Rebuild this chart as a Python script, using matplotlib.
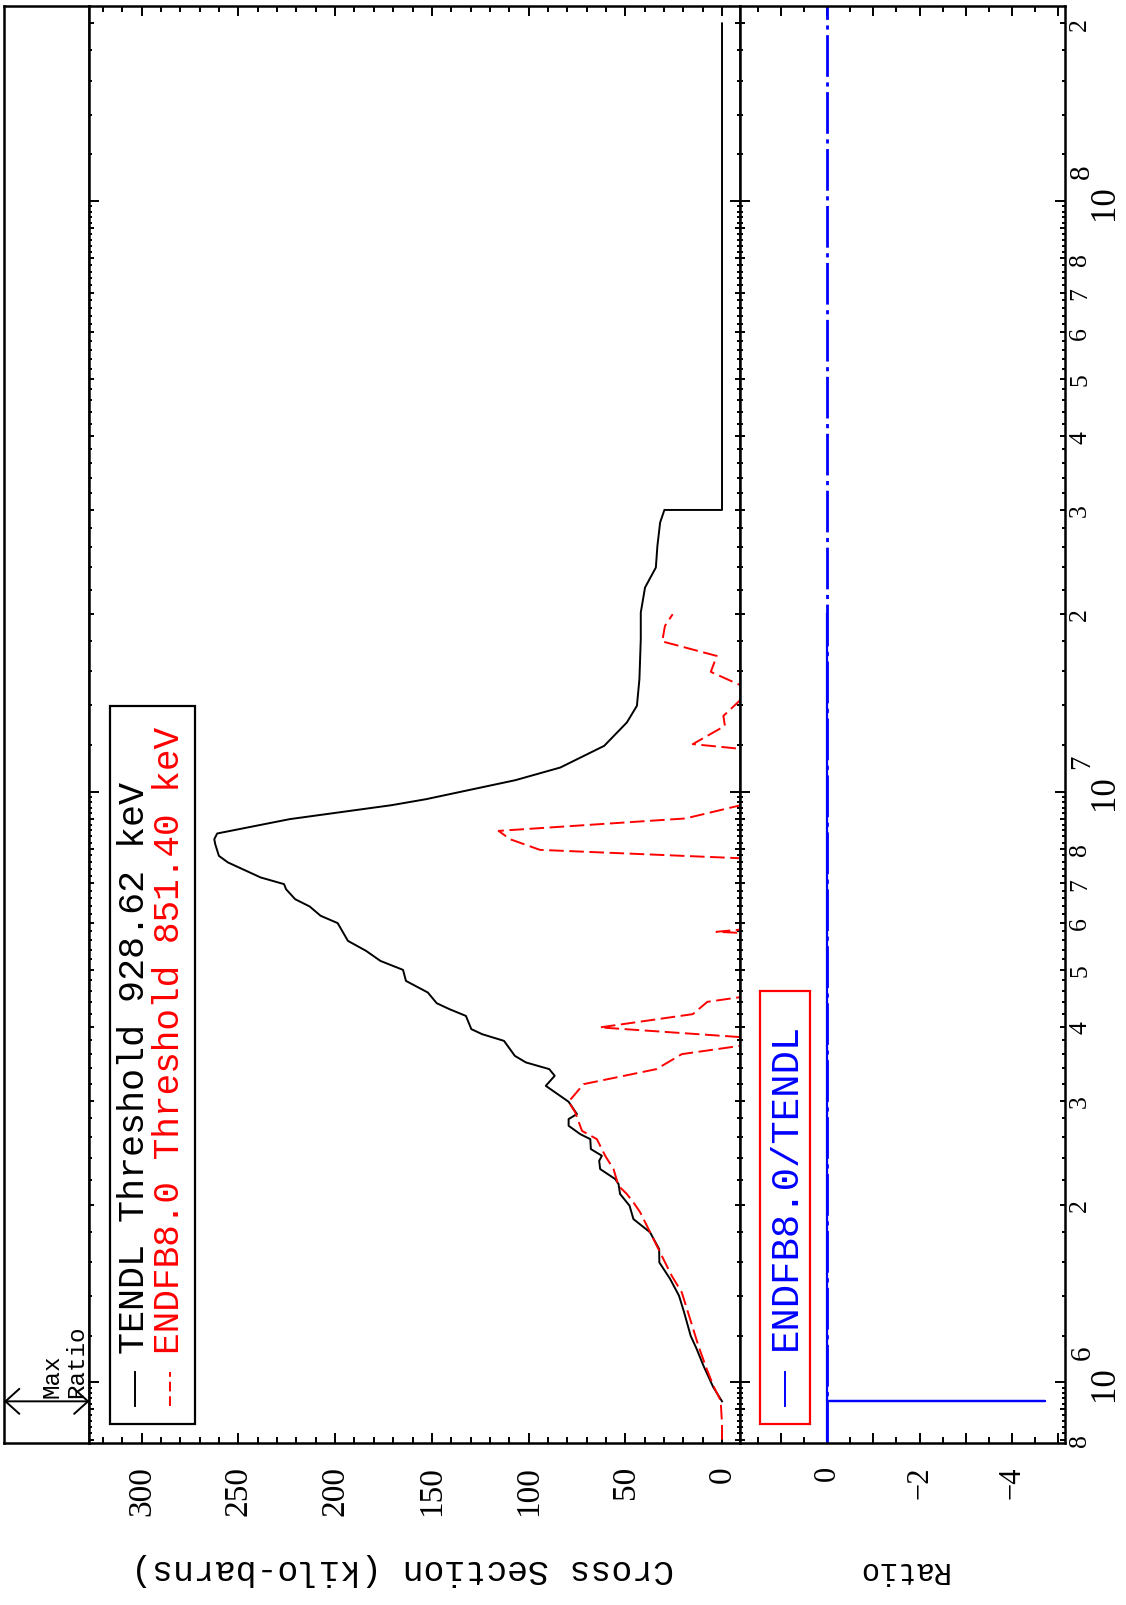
import numpy as np
import matplotlib
matplotlib.use("Agg")
import matplotlib.pyplot as plt
from matplotlib.lines import Line2D
from matplotlib.patches import Rectangle
from matplotlib.ticker import FixedLocator, FuncFormatter, MultipleLocator

plt.rcParams['font.family'] = ['Liberation Serif', 'DejaVu Serif']
plt.rcParams['lines.scale_dashes'] = False

# TENDL cross section (kilo-barns) vs energy (eV)
tendl_E = [9.2862e5, 9.81e5, 1.067e6, 1.139e6, 1.199e6, 1.314e6, 1.401e6, 1.496e6,
           1.596e6, 1.681e6, 1.795e6, 1.890e6, 1.991e6, 2.084e6, 2.166e6, 2.209e6,
           2.297e6, 2.372e6, 2.419e6, 2.483e6, 2.581e6, 2.632e6, 2.719e6, 2.791e6,
           2.846e6, 2.986e6, 3.177e6, 3.304e6, 3.391e6, 3.481e6, 3.571e6, 3.786e6,
           3.886e6, 3.963e6, 4.173e6, 4.284e6, 4.385e6, 4.572e6, 4.783e6, 4.993e6,
           5.171e6, 5.377e6, 5.591e6, 5.992e6, 6.165e6, 6.394e6, 6.578e6, 6.840e6,
           6.975e6, 7.159e6, 7.590e6, 7.788e6, 8.151e6, 8.311e6, 8.498e6, 8.987e6,
           9.489e6, 9.714e6, 1.046e7, 1.099e7, 1.196e7, 1.310e7, 1.398e7, 1.551e7,
           1.812e7, 2.011e7, 2.217e7, 2.397e7, 2.608e7, 2.856e7, 3.0e7, 3.0e7, 2.0e8]
tendl_xs = [0.0, 4.5, 9.6, 13.1, 16.2, 19.6, 22.2, 26.8,
            32.4, 32.5, 37.2, 45.8, 47.8, 52.7, 53.5, 55.2,
            63.0, 63.5, 62.1, 67.8, 68.1, 73.3, 79.3, 79.3,
            75.0, 79.3, 91.1, 86.5, 89.3, 101.4, 107.1, 112.7,
            124.0, 129.6, 132.4, 140.9, 147.5, 152.1, 163.4, 164.9,
            176.6, 184.0, 193.4, 198.7, 207.5, 213.2, 220.7, 225.4,
            226.4, 238.5, 255.4, 260.1, 262.0, 262.5, 261.0, 223.5,
            170.9, 153.0, 106.9, 83.6, 60.9, 49.2, 44.0, 42.7,
            42.0, 42.0, 39.8, 34.2, 33.4, 32.0, 29.8, 0.0, 0.0]

# ENDF/B-VIII.0
endf_E = [8.0e5, 8.514e5, 9.31e5, 9.87e5, 1.053e6, 1.153e6, 1.280e6, 1.420e6,
          1.515e6, 1.617e6, 1.703e6, 1.818e6, 1.940e6, 2.017e6, 2.084e6, 2.152e6,
          2.297e6, 2.419e6, 2.581e6, 2.666e6, 2.865e6, 2.986e6, 3.198e6, 3.391e6,
          3.595e6, 3.724e6, 3.837e6, 3.990e6, 4.202e6, 4.408e6, 4.502e6, 5.763e6,
          5.792e6, 5.853e6, 7.710e6, 7.972e6, 8.311e6, 8.585e6, 9.011e6, 9.528e6,
          1.180e7, 1.204e7, 1.293e7, 1.344e7, 1.425e7, 1.502e7, 1.596e7, 1.698e7,
          1.797e7, 1.909e7, 1.998e7]
endf_xs = [0.0, 0.0, 0.7, 4.5, 7.9, 12.2, 16.5, 20.8,
           26.0, 30.3, 33.7, 38.0, 42.3, 45.8, 49.2, 53.5,
           56.1, 60.4, 64.7, 72.4, 75.9, 79.3, 71.6, 33.9,
           20.8, -12.0, -12.0, 63.1, 15.1, 7.6, -12.0, -12.0,
           2.9, -12.0, -12.0, 94.1, 109.6, 115.5, 18.9, -12.0,
           -12.0, 15.1, -1.5, -0.7, -9.0, -12.0, 5.8, 2.7,
           30.9, 29.5, 25.5]

# ratio ENDFB8.0/TENDL
ratio_E = [8.0e5, 9.2862e5, 9.2862e5, 9.2862e5, 2.0e7]
ratio_val = [0.0, 0.0, -4.73, 0.0, 0.0]
ratio_ref = 0.0

E_LO, E_HI = 7.894e5, 2.14e8
XS_LIM = (327.0, -9.3)
R_LIM = (1.894, -5.156)

W, H = 1126, 1606
TOP, BOT = 7, 1444
MONO = 'Liberation Mono'


def box(x0, x1):
    return [x0 / W, 1 - BOT / H, (x1 - x0) / W, (BOT - TOP) / H]


def fxy(px, py):
    return px / W, 1 - py / H


fig = plt.figure(figsize=(W / 100, H / 100), dpi=100)
axm = fig.add_axes(box(4, 89.5))
ax1 = fig.add_axes(box(89.5, 740))
ax2 = fig.add_axes(box(740, 1065))

ax1.plot(tendl_xs, tendl_E, color='black', lw=1.4)
ax1.plot(endf_xs, endf_E, color='red', lw=1.4, linestyle=(0, (10.5, 4)))
ax2.axvline(ratio_ref, color='blue', lw=2.0, linestyle=(0, (30, 4, 3, 4)))
ax2.plot(ratio_val, ratio_E, color='blue', lw=1.6)

# energy ticks: decades, integer multiples, 0.2 sub-steps
decades = [1e5, 1e6, 1e7, 1e8]
maj_locs = [k * d for d in decades for k in range(1, 10)]
min_locs = [m * d for d in decades for m in np.arange(1.2, 10.0, 0.2)
            if abs(m - round(m)) > 0.05]


def e_label(v, pos):
    p = int(np.floor(np.log10(v) + 1e-9))
    k = int(round(v / 10 ** p))
    if 2 <= k <= 8:
        return str(k)
    return ''


for ax in (axm, ax1, ax2):
    ax.set_yscale('log')
    ax.set_ylim(E_LO, E_HI)
    for s in ax.spines.values():
        s.set_linewidth(1.8)

axm.set_xlim(0, 1)
axm.set_xticks([])
axm.set_yticks([])
axm.minorticks_off()

ax1.set_xlim(*XS_LIM)
ax1.xaxis.set_major_locator(MultipleLocator(50))
ax1.xaxis.set_minor_locator(MultipleLocator(10))
ax1.xaxis.set_major_formatter(FuncFormatter(lambda v, p: '%d' % round(v)))

ax2.set_xlim(*R_LIM)
ax2.xaxis.set_major_locator(MultipleLocator(1))
ax2.xaxis.set_minor_locator(MultipleLocator(0.5))
ax2.xaxis.set_major_formatter(FuncFormatter(
    lambda v, p: ('\u2212%d' % abs(round(v)) if round(v) < 0 else '%d' % round(v))
    if round(v) % 2 == 0 else ''))

for ax in (ax1, ax2):
    ax.yaxis.set_major_locator(FixedLocator(maj_locs))
    ax.yaxis.set_minor_locator(FixedLocator(min_locs))
    ax.yaxis.set_major_formatter(FuncFormatter(e_label))
    ax.tick_params(axis='x', which='both', direction='in', top=True, bottom=True,
                   labeltop=False, labelbottom=True, labelrotation=90, width=1.4)
    ax.tick_params(axis='x', which='major', length=7.5)
    ax.tick_params(axis='x', which='minor', length=4)
    ax.tick_params(axis='y', which='both', direction='in', left=True, right=True,
                   labelleft=False, labelright=False, width=1.4)
    ax.tick_params(axis='y', which='major', length=3.6)
    ax.tick_params(axis='y', which='minor', length=2.5)

ax1.tick_params(axis='x', which='major', labelsize=24, pad=16)
ax2.tick_params(axis='x', which='major', labelsize=22, pad=16)
ax2.tick_params(axis='y', which='major', labelright=True, labelrotation=90,
                labelsize=18.5, pad=3)

# longer ticks at decades
for ax in (ax1, ax2):
    locs = ax.yaxis.get_majorticklocs()
    for loc, t in zip(locs, ax.yaxis.get_major_ticks(len(locs))):
        t.label2.set_va('center')
        if abs(np.log10(loc) - round(np.log10(loc))) < 1e-6:
            t.tick1line.set_markersize(7.5)
            t.tick2line.set_markersize(7.5)

# decade labels: large "10" with raised exponent
for d in decades:
    if not E_LO <= d <= E_HI:
        continue
    tr = ax2.get_yaxis_transform()
    ax2.annotate('10', xy=(1, d), xycoords=tr, xytext=(28.5, 0),
                 textcoords='offset points', rotation=90, ha='center', va='center',
                 fontsize=25)
    ax2.annotate('%d' % round(np.log10(d)), xy=(1, d), xycoords=tr,
                 xytext=(12.5, 22), textcoords='offset points', rotation=90,
                 ha='center', va='center', fontsize=21)

# Max Ratio marker
e_max = ratio_E[int(np.argmin(ratio_val))]
axm.annotate('', xy=(0, e_max), xycoords=axm.get_yaxis_transform(),
             xytext=(1, e_max), textcoords=axm.get_yaxis_transform(),
             arrowprops=dict(arrowstyle='<->,head_length=0.5,head_width=0.45',
                             lw=1.4, color='black', shrinkA=0, shrinkB=0,
                             mutation_scale=20))
for xf, txt in ((0.556, 'Max'), (0.848, 'Ratio')):
    axm.annotate(txt, xy=(xf, e_max), xycoords=axm.get_yaxis_transform(),
                 xytext=(0, 3), textcoords='offset points', rotation=90,
                 ha='center', va='bottom', family=MONO, fontsize=17.5)

# legend of the cross section panel
x0, y0 = fxy(110, 1425)
fig.add_artist(Rectangle((x0, y0), 85 / W, (1425 - 707) / H, fill=False,
                         ec='black', lw=1.6, transform=fig.transFigure))
fig.add_artist(Line2D([135 / W] * 2, [1 - 1406.7 / H, 1 - 1373 / H], color='black',
                      lw=1.4, transform=fig.transFigure))
fig.add_artist(Line2D([170 / W] * 2, [1 - 1406.7 / H, 1 - 1373 / H], color='red',
                      lw=1.4, linestyle=(0, (7, 3.5)), transform=fig.transFigure))
fig.text(*fxy(135, 1354), 'TENDL Threshold 928.62 keV', rotation=90, ha='center',
         va='bottom', family=MONO, fontsize=26.5, color='black')
fig.text(*fxy(170, 1354), 'ENDFB8.0 Threshold 851.40 keV', rotation=90, ha='center',
         va='bottom', family=MONO, fontsize=26, color='red')

# legend of the ratio panel
x0, y0 = fxy(760, 1425)
fig.add_artist(Rectangle((x0, y0), 50 / W, (1425 - 992) / H, fill=False,
                         ec='red', lw=1.6, transform=fig.transFigure))
fig.add_artist(Line2D([785 / W] * 2, [1 - 1406.7 / H, 1 - 1373 / H], color='blue',
                      lw=1.4, transform=fig.transFigure))
fig.text(*fxy(786, 1350), 'ENDFB8.0/TENDL', rotation=90, ha='center',
         va='bottom', family=MONO, fontsize=28, color='blue')

# axis titles (upside down)
fig.text(*fxy(403, 1570), 'Cross Section (kilo-barns)', rotation=180, ha='center',
         va='center', family=MONO, fontsize=25)
fig.text(*fxy(902, 1570), 'Ratio', rotation=180, ha='center',
         va='center', family=MONO, fontsize=22)

fig.savefig('out.png', dpi=100)
